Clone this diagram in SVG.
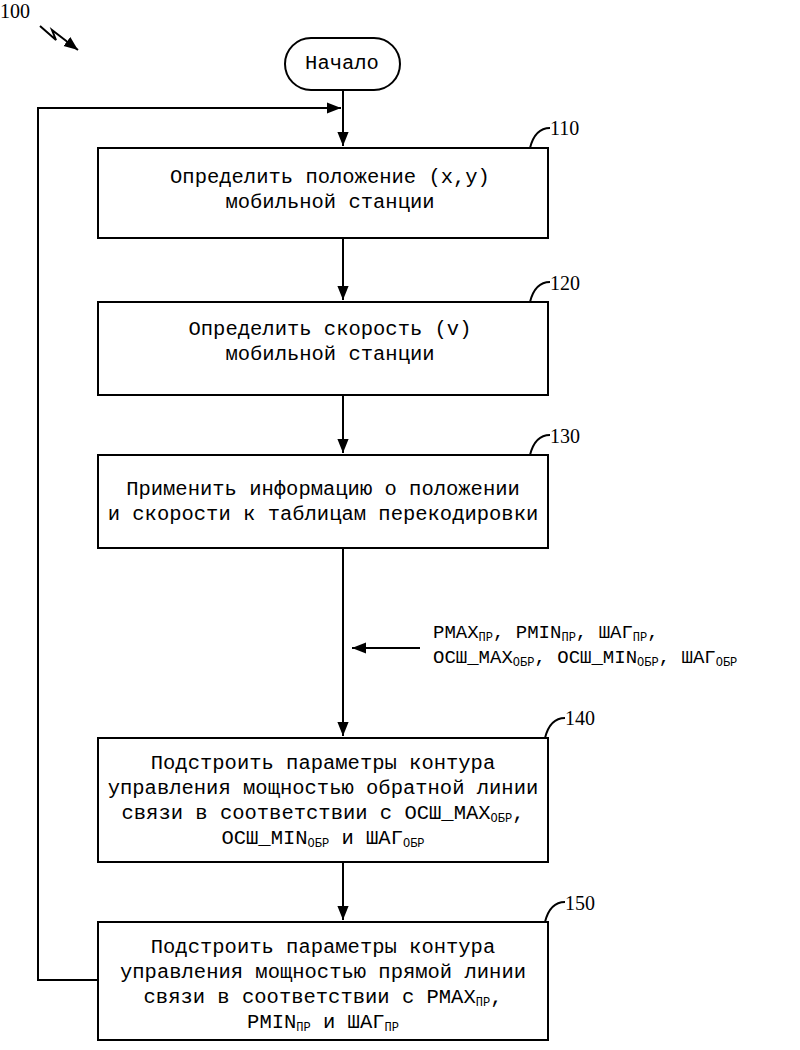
<svg xmlns="http://www.w3.org/2000/svg" width="800" height="1050" viewBox="0 0 800 1050">
<style>
.b{fill:#fff;stroke:#000;stroke-width:2}
.l{fill:none;stroke:#000;stroke-width:2}
.t{font-family:"Liberation Mono",monospace;font-size:20.5px;text-anchor:middle}
.s{font-family:"Liberation Mono",monospace;font-size:19px}
.n{font-family:"Liberation Serif",serif;font-size:20px}
.sub{font-size:12px}
</style>
<defs><marker id="a" viewBox="0 0 10 10" refX="10" refY="5" markerWidth="7" markerHeight="7" orient="auto"><path d="M0,1 L10,5 L0,9 z"/></marker></defs>
<text class="n" x="0" y="18">100</text>
<path class="l" d="M40,26 L56,40 L52,30 L78,50" marker-end="url(#a)"/>
<g id="connectors">
<line class="l" x1="343" y1="90" x2="343" y2="146" marker-end="url(#a)"/>
<polyline class="l" points="98,980 38,980 38,108 341,108" marker-end="url(#a)"/>
<line class="l" x1="343" y1="238" x2="343" y2="300" marker-end="url(#a)"/>
<line class="l" x1="343" y1="395" x2="343" y2="453" marker-end="url(#a)"/>
<line class="l" x1="343" y1="548" x2="343" y2="736" marker-end="url(#a)"/>
<line class="l" x1="420" y1="648" x2="352" y2="648" marker-end="url(#a)"/>
<line class="l" x1="343" y1="862" x2="343" y2="920" marker-end="url(#a)"/>
</g>
<g id="start"><rect class="b" x="285" y="38" width="115" height="52" rx="26"/><text class="t" x="342" y="69">Начало</text></g>
<g id="n110"><rect class="b" x="98" y="148" width="450" height="90"/>
<text class="t" x="330" y="183">Определить положение (x,y)</text><text class="t" x="330" y="208">мобильной станции</text>
<path class="l" d="M530,148 Q535,128 550,128"/><text class="n" x="550" y="135">110</text></g>
<g id="n120"><rect class="b" x="98" y="302" width="450" height="93"/>
<text class="t" x="330" y="335">Определить скорость (v)</text><text class="t" x="330" y="360">мобильной станции</text>
<path class="l" d="M530,302 Q535,282 550,282"/><text class="n" x="550" y="290">120</text></g>
<g id="n130"><rect class="b" x="98" y="455" width="450" height="93"/>
<text class="t" x="323" y="495">Применить информацию о положении</text><text class="t" x="323" y="520">и скорости к таблицам перекодировки</text>
<path class="l" d="M530,455 Q535,435 550,435"/><text class="n" x="550" y="443">130</text></g>
<g id="params"><text class="s" x="433" y="638">PMAX<tspan class="sub" dy="3">ПР</tspan><tspan dy="-3">, PMIN</tspan><tspan class="sub" dy="3">ПР</tspan><tspan dy="-3">, ШАГ</tspan><tspan class="sub" dy="3">ПР</tspan><tspan dy="-3">,</tspan></text>
<text class="s" x="433" y="663">ОСШ_MAX<tspan class="sub" dy="3">ОБР</tspan><tspan dy="-3">, ОСШ_MIN</tspan><tspan class="sub" dy="3">ОБР</tspan><tspan dy="-3">, ШАГ</tspan><tspan class="sub" dy="3">ОБР</tspan></text></g>
<g id="n140"><rect class="b" x="98" y="738" width="450" height="124"/>
<text class="t" x="323" y="769">Подстроить параметры контура</text><text class="t" x="323" y="794">управления мощностью обратной линии</text>
<text class="t" x="323" y="819">связи в соответствии с ОСШ_MAX<tspan class="sub" dy="3">ОБР</tspan><tspan dy="-3">,</tspan></text>
<text class="t" x="323" y="844">ОСШ_MIN<tspan class="sub" dy="3">ОБР</tspan><tspan dy="-3"> и ШАГ</tspan><tspan class="sub" dy="3">ОБР</tspan></text>
<path class="l" d="M545,738 Q550,718 565,718"/><text class="n" x="565" y="725">140</text></g>
<g id="n150"><rect class="b" x="98" y="922" width="450" height="118"/>
<text class="t" x="323" y="953">Подстроить параметры контура</text><text class="t" x="323" y="978">управления мощностью прямой линии</text>
<text class="t" x="323" y="1003">связи в соответствии с PMAX<tspan class="sub" dy="3">ПР</tspan><tspan dy="-3">,</tspan></text>
<text class="t" x="323" y="1028">PMIN<tspan class="sub" dy="3">ПР</tspan><tspan dy="-3"> и ШАГ</tspan><tspan class="sub" dy="3">ПР</tspan></text>
<path class="l" d="M545,922 Q550,902 565,902"/><text class="n" x="565" y="910">150</text></g>
</svg>
